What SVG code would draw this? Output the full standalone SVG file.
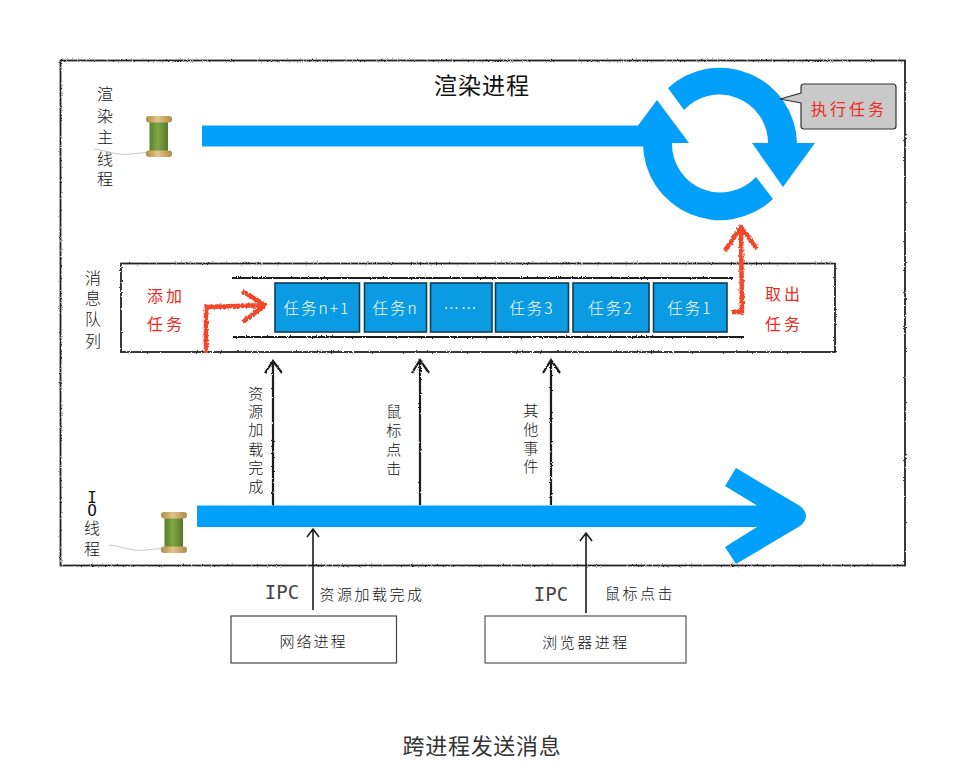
<svg xmlns="http://www.w3.org/2000/svg" width="966" height="782" viewBox="0 0 966 782">
<style>
text{font-family:"Noto Sans CJK SC","Noto Sans",sans-serif;font-weight:300;fill:#111;text-anchor:middle;dominant-baseline:central}
.lbl{font-size:15px;letter-spacing:2.500px}
.side{font-size:16px}
.red{fill:#f02a1e;font-size:16px;letter-spacing:3px;font-weight:400}
.task{fill:#fff;font-size:15.500px;letter-spacing:2px}
.ipc{font-family:"DejaVu Sans Mono",monospace;font-size:19px;fill:#444}
.mono{font-family:"DejaVu Sans Mono",monospace;font-size:16px}
.box{fill:#fff;stroke:#222;stroke-width:1.800}
.rough{filter:url(#rough)}
.blue{fill:#029ffb}
.tb{fill:#0a9be3;stroke:#123d55;stroke-width:1.600}
.ln{fill:none;stroke:#1c1c1c;stroke-width:2.200}
.thin{fill:none;stroke:#1c1c1c;stroke-width:1.600}
.r{fill:none;stroke:#f4472c;stroke-width:4.500;stroke-linejoin:round;filter:url(#rougher)}
.wood{fill:url(#wood)}
.thread{fill:url(#green)}
</style>
<defs>
<filter id="rough" filterUnits="userSpaceOnUse" x="0" y="0" width="966" height="782">
<feTurbulence type="fractalNoise" baseFrequency="0.8" numOctaves="2" seed="4"/>
<feDisplacementMap in="SourceGraphic" scale="2.400" xChannelSelector="R" yChannelSelector="G"/>
</filter>
<filter id="rougher" filterUnits="userSpaceOnUse" x="0" y="0" width="966" height="782">
<feTurbulence type="fractalNoise" baseFrequency="0.5" numOctaves="2" seed="9"/>
<feDisplacementMap in="SourceGraphic" scale="4" xChannelSelector="R" yChannelSelector="G"/>
</filter>
<linearGradient id="wood"><stop offset="0" stop-color="#b08a45"/><stop offset=".45" stop-color="#e2c589"/><stop offset="1" stop-color="#b08a45"/></linearGradient>
<linearGradient id="green"><stop offset="0" stop-color="#5d8228"/><stop offset=".45" stop-color="#82a745"/><stop offset="1" stop-color="#54782a"/></linearGradient>
<g id="spool">
<path d="M-52 33C-40 34-30 40-15 38S8 38 12 28" fill="none" stroke="#c8c8c0" stroke-width="1"/>
<rect x="3.500" y="6" width="18.500" height="30" class="thread"/>
<rect x="0" y="0" width="26" height="6.500" rx="3" class="wood"/>
<rect x="0" y="34.500" width="26" height="6.500" rx="3" class="wood"/>
</g>
</defs>
<rect width="966" height="782" fill="#fff"/>

<g id="render-process">
<rect x="60.500" y="60.500" width="844.500" height="505" class="box rough"/>
<text x="482" y="84" font-size="23" letter-spacing="1" style="font-weight:400">渲染进程</text>
</g>

<g id="queue-box">
<rect x="121" y="263.500" width="714" height="88.500" class="box rough"/>
<path d="M232 278H734M233 337H744" class="ln rough"/>
</g>

<g id="connectors">
<path d="M273 505V362M265 373L273 361L282 373" class="ln rough"/>
<path d="M420 505V361M412 373L420 360L429 373" class="ln rough"/>
<path d="M551 505V361M543 373L551 360L560 373" class="ln rough"/>
<path d="M313 610V529M307 537L313 529L319 537" class="thin"/>
<path d="M586 613V533M580 541L586 533L592 541" class="thin"/>
<path d="M206 353V307L265 305M242 291L265 305L243 322" class="r"/>
<path d="M732 312H742L741 228M725 251L741 227L757 249" class="r"/>
</g>

<g id="render-main-thread">
<text class="side"><tspan x="105" y="93">渲</tspan><tspan x="105" y="115">染</tspan><tspan x="105" y="136">主</tspan><tspan x="105" y="158">线</tspan><tspan x="105" y="178">程</tspan></text>
<use href="#spool" x="146" y="116"/>
<rect x="202" y="125.500" width="445" height="21" class="blue"/>
</g>

<g id="event-loop">
<path class="blue" d="M668 88A77 77 0 0 1 797 143H768A48.500 48.500 0 0 0 684 110Z"/>
<path class="blue" d="M752 143H815L783 187Z"/>
<path class="blue" d="M773 199A77 77 0 0 1 643 143H672A48.500 48.500 0 0 0 756 177Z"/>
<path class="blue" d="M657 100L689 143H625Z"/>
</g>

<g id="run-task-callout">
<path d="M804 84H893Q896 84 896 87V126Q896 129 893 129H804Q801 129 801 126V103L780 99L801 93V87Q801 84 804 84Z" fill="#c9c9c9" stroke="#333" stroke-width="1.200"/>
<text x="849" y="108" class="red">执行任务</text>
</g>

<g id="message-queue">
<text class="side"><tspan x="93" y="277">消</tspan><tspan x="93" y="297">息</tspan><tspan x="93" y="318">队</tspan><tspan x="93" y="340">列</tspan></text>
<text class="red"><tspan x="166" y="295">添加</tspan><tspan x="166" y="323">任务</tspan></text>
<text class="red"><tspan x="784" y="293">取出</tspan><tspan x="784" y="323">任务</tspan></text>
</g>

<g id="task-n1"><rect x="275" y="283" width="84.500" height="49" class="tb"/><text x="317" y="307" class="task">任务n+1</text></g>
<g id="task-n"><rect x="364.500" y="283" width="62" height="49" class="tb"/><text x="395.500" y="307" class="task">任务n</text></g>
<g id="task-dots"><rect x="430.500" y="283" width="61.500" height="49" class="tb"/><text x="461" y="307" class="task">……</text></g>
<g id="task-3"><rect x="495.500" y="283" width="73" height="49" class="tb"/><text x="532" y="307" class="task">任务3</text></g>
<g id="task-2"><rect x="573" y="283" width="76" height="49" class="tb"/><text x="611" y="307" class="task">任务2</text></g>
<g id="task-1"><rect x="653.500" y="283" width="73.500" height="49" class="tb"/><text x="690" y="307" class="task">任务1</text></g>

<g id="event-labels">
<text class="lbl"><tspan x="257" y="392">资</tspan><tspan x="257" y="410">源</tspan><tspan x="257" y="428">加</tspan><tspan x="257" y="448">载</tspan><tspan x="257" y="466">完</tspan><tspan x="257" y="485">成</tspan></text>
<text class="lbl"><tspan x="395" y="410">鼠</tspan><tspan x="395" y="429">标</tspan><tspan x="395" y="448">点</tspan><tspan x="395" y="467">击</tspan></text>
<text class="lbl"><tspan x="532" y="409">其</tspan><tspan x="532" y="428">他</tspan><tspan x="532" y="447">事</tspan><tspan x="532" y="465">件</tspan></text>
</g>

<g id="io-thread">
<text class="side"><tspan x="92" y="497" class="mono">I</tspan><tspan x="92" y="510" class="mono">O</tspan><tspan x="92" y="527">线</tspan><tspan x="92" y="548">程</tspan></text>
<use href="#spool" x="161" y="512"/>
<path class="blue" d="M197 505.500H757L725 486L736 468L800 506Q812 516 800 526L736 564L725 547L757 527H197Z"/>
</g>

<g id="network-process">
<rect x="231" y="616" width="165.500" height="47" fill="#fff" stroke="#444" stroke-width="1.200"/>
<text x="313.500" y="640" font-size="15" letter-spacing="2">网络进程</text>
<text x="282" y="592" class="ipc">IPC</text>
<text x="372" y="593" class="lbl">资源加载完成</text>
</g>

<g id="browser-process">
<rect x="485" y="616" width="201" height="47" fill="#fff" stroke="#555" stroke-width="1.200"/>
<text x="586" y="641" font-size="15" letter-spacing="2.500">浏览器进程</text>
<text x="551" y="594" class="ipc">IPC</text>
<text x="640" y="592" class="lbl">鼠标点击</text>
</g>

<text id="caption" x="482" y="744" font-size="22" letter-spacing=".7" style="font-weight:400;fill:#333">跨进程发送消息</text>
</svg>
